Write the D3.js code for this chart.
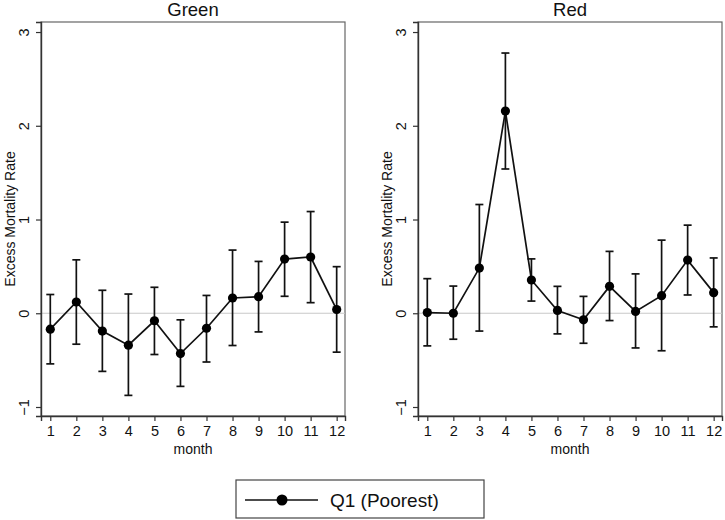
<!DOCTYPE html>
<html><head><meta charset="utf-8">
<script src="https://cdn.jsdelivr.net/npm/d3@7"></script>
<style>body{margin:0;background:#fff}svg{display:block;font-family:"Liberation Sans",Arial,sans-serif}</style>
</head><body><svg id="c" width="725" height="520"></svg>
<script>
const months = [1,2,3,4,5,6,7,8,9,10,11,12];
const greenEst = [-0.17,0.12,-0.19,-0.34,-0.08,-0.43,-0.16,0.163,0.177,0.578,0.60,0.04];
const greenLo  = [-0.54,-0.33,-0.62,-0.876,-0.44,-0.78,-0.52,-0.344,-0.199,0.181,0.113,-0.415];
const greenHi  = [0.20,0.57,0.245,0.205,0.277,-0.07,0.19,0.674,0.553,0.972,1.085,0.497];
const redEst = [0.007,0.0,0.482,2.157,0.355,0.03,-0.07,0.287,0.02,0.188,0.567,0.22];
const redLo  = [-0.348,-0.277,-0.19,1.539,0.13,-0.22,-0.32,-0.078,-0.37,-0.40,0.195,-0.145];
const redHi  = [0.369,0.29,1.16,2.776,0.58,0.287,0.18,0.66,0.42,0.78,0.94,0.59];
const yTicks = [-1,0,1,2,3];
const panelTitles = ["Green","Red"];
const yLabel = "Excess Mortality Rate";
const xLabel = "month";
const legendLabel = "Q1 (Poorest)";

const svg = d3.select("#c");
const panels = [
  {title: panelTitles[0], est: greenEst, lo: greenLo, hi: greenHi, left: 41},
  {title: panelTitles[1], est: redEst, lo: redLo, hi: redHi, left: 418}
];
const W = 304, plotTop = 22, plotBottom = 416;
const y = d3.scaleLinear().domain([-1.096, 3.107]).range([plotBottom, plotTop]);

panels.forEach(p => {
  const x = d3.scaleLinear().domain([0.643, 12.32]).range([p.left, p.left + W]);
  const g = svg.append("g");
  g.append("rect").attr("x", p.left).attr("y", plotTop).attr("width", W).attr("height", plotBottom - plotTop)
    .attr("fill", "none").attr("stroke", "#666").attr("stroke-width", 1.2);
  g.append("line").attr("x1", p.left).attr("x2", p.left + W).attr("y1", y(0)).attr("y2", y(0))
    .attr("stroke", "#c8c8c8").attr("stroke-width", 1.2);
  const ya = g.append("g").attr("transform", `translate(${p.left},0)`)
    .call(d3.axisLeft(y).tickValues(yTicks).tickSize(5).tickFormat(d3.format("d")));
  ya.select(".domain").attr("stroke", "#333").attr("stroke-width", 1.4);
  ya.selectAll(".tick line").attr("stroke", "#333").attr("stroke-width", 1.2);
  ya.selectAll(".tick text").attr("font-size", 14.5).attr("fill", "#111")
    .attr("text-anchor", "middle").attr("x", 0).attr("dy", 0)
    .attr("transform", "translate(-17.5,0) rotate(-90)").attr("dominant-baseline", "central");
  const xa = g.append("g").attr("transform", `translate(0,${plotBottom})`)
    .call(d3.axisBottom(x).tickValues(months).tickSize(5).tickFormat(d3.format("d")));
  xa.select(".domain").attr("stroke", "#333").attr("stroke-width", 1.4);
  xa.selectAll(".tick line").attr("stroke", "#333").attr("stroke-width", 1.2);
  xa.selectAll(".tick text").attr("font-size", 14.5).attr("fill", "#111").attr("y", 10);
  g.append("text").attr("x", p.left + W / 2).attr("y", 16).attr("text-anchor", "middle")
    .attr("font-size", 18.5).attr("fill", "#111").text(p.title);
  g.append("text").attr("transform", `translate(${p.left - 31},${(plotTop + plotBottom) / 2}) rotate(-90)`)
    .attr("text-anchor", "middle").attr("dominant-baseline", "central")
    .attr("font-size", 14).attr("fill", "#111").text(yLabel);
  g.append("text").attr("x", p.left + W / 2).attr("y", 454).attr("text-anchor", "middle")
    .attr("font-size", 14).attr("fill", "#111").text(xLabel);
  const eb = g.append("g").attr("stroke", "#111").attr("stroke-width", 1.7);
  months.forEach((m, i) => {
    eb.append("line").attr("x1", x(m)).attr("x2", x(m)).attr("y1", y(p.lo[i])).attr("y2", y(p.hi[i]));
    eb.append("line").attr("x1", x(m) - 4).attr("x2", x(m) + 4).attr("y1", y(p.lo[i])).attr("y2", y(p.lo[i]));
    eb.append("line").attr("x1", x(m) - 4).attr("x2", x(m) + 4).attr("y1", y(p.hi[i])).attr("y2", y(p.hi[i]));
  });
  g.append("path").datum(months.map((m, i) => [m, p.est[i]]))
    .attr("d", d3.line().x(d => x(d[0])).y(d => y(d[1])))
    .attr("fill", "none").attr("stroke", "#111").attr("stroke-width", 1.7);
  g.selectAll("circle.pt").data(months).enter().append("circle")
    .attr("cx", m => x(m)).attr("cy", (m, i) => y(p.est[i])).attr("r", 4.6).attr("fill", "#000");
});

const lg = svg.append("g");
lg.append("rect").attr("x", 236).attr("y", 480).attr("width", 248).attr("height", 38)
  .attr("fill", "#fff").attr("stroke", "#444").attr("stroke-width", 1.2);
lg.append("line").attr("x1", 245).attr("x2", 318).attr("y1", 500).attr("y2", 500)
  .attr("stroke", "#111").attr("stroke-width", 1.7);
lg.append("circle").attr("cx", 282).attr("cy", 500).attr("r", 5.5).attr("fill", "#000");
lg.append("text").attr("x", 330).attr("y", 500).attr("dominant-baseline", "central")
  .attr("font-size", 19).attr("fill", "#111").text(legendLabel);
</script></body></html>
